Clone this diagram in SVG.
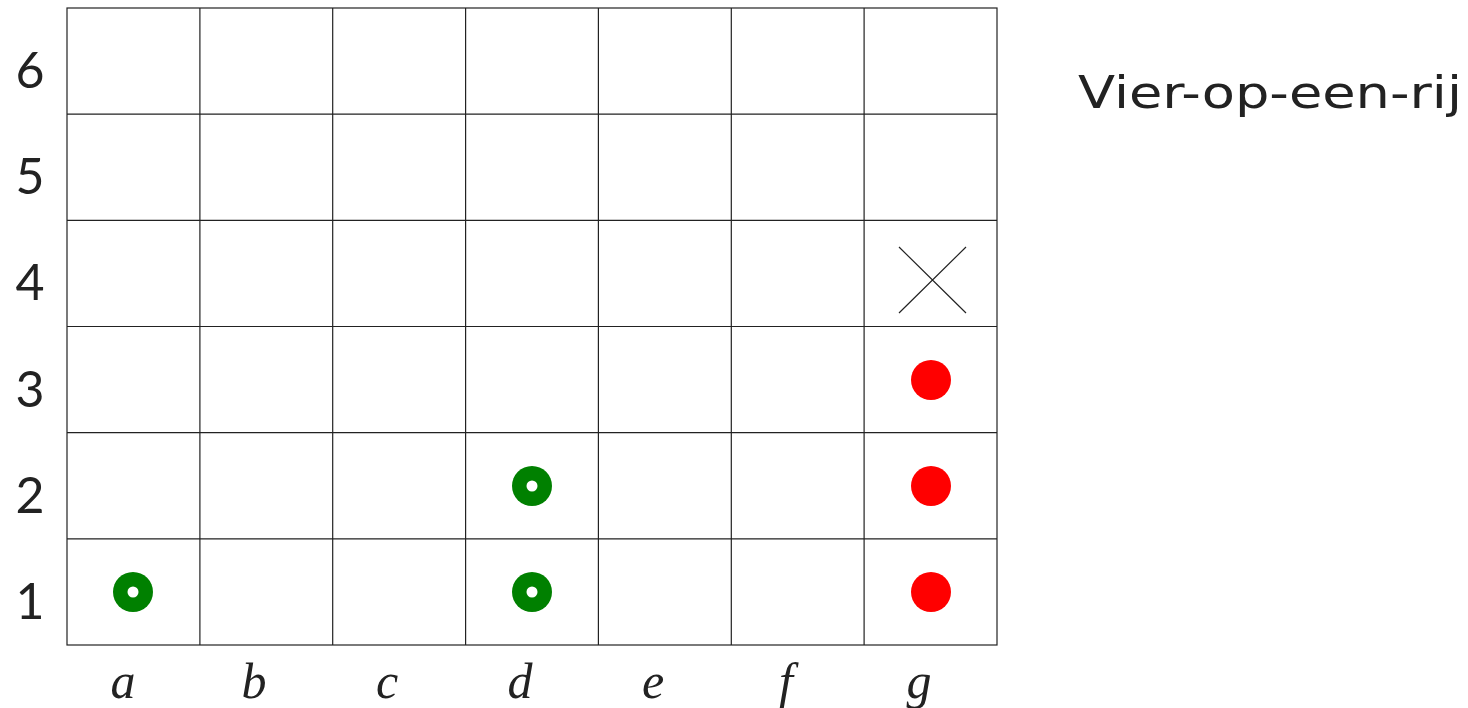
<svg xmlns="http://www.w3.org/2000/svg" width="1468" height="708" viewBox="0 0 1468 708">
<style>
.grid{stroke:#222;stroke-width:1.2;fill:none}
.row{font-family:Lato,"DejaVu Sans",sans-serif;font-size:50px;fill:#222;text-anchor:middle}
.col{font-family:"Liberation Serif",serif;font-style:italic;font-size:50px;fill:#222;text-anchor:middle}
.title{font-family:"DejaVu Sans",sans-serif;font-size:44px;fill:#222}
.red{fill:#ff0000}
.green{fill:#008000}
.hole{fill:#fff}
</style>
<rect width="1468" height="708" fill="#fff"/>
<g id="board">
<rect class="grid" x="67" y="8" width="930" height="637"/>
<path class="grid" d="M199.9 8V645M332.7 8V645M465.6 8V645M598.4 8V645M731.3 8V645M864.1 8V645M67 114.2H997M67 220.3H997M67 326.5H997M67 432.7H997M67 538.8H997"/>
</g>
<g id="row-labels">
<text class="row" x="30" y="88">6</text>
<text class="row" x="30" y="194">5</text>
<text class="row" x="30" y="300">4</text>
<text class="row" x="30" y="407">3</text>
<text class="row" x="30" y="513">2</text>
<text class="row" x="30" y="619">1</text>
</g>
<g id="col-labels">
<text class="col" x="123" y="698">a</text>
<text class="col" x="254" y="698">b</text>
<text class="col" x="387" y="698">c</text>
<text class="col" x="520" y="698">d</text>
<text class="col" x="653" y="698">e</text>
<text class="col" x="786" y="698">f</text>
<text class="col" x="919" y="698">g</text>
</g>
<g id="title"><text class="title" x="1078" y="108" textLength="384" lengthAdjust="spacingAndGlyphs">Vier-op-een-rij</text></g>
<g id="marker-g4"><path d="M899 247L966 313M966 247L899 313" stroke="#222" stroke-width="1.2" fill="none"/></g>
<g id="red-pieces">
<circle class="red" cx="931" cy="380" r="20"/>
<circle class="red" cx="931" cy="486" r="20"/>
<circle class="red" cx="931" cy="592" r="20"/>
</g>
<g id="green-pieces">
<circle class="green" cx="133" cy="592" r="20"/><circle class="hole" cx="133" cy="592" r="5.5"/>
<circle class="green" cx="532" cy="592" r="20"/><circle class="hole" cx="532" cy="592" r="5.5"/>
<circle class="green" cx="532" cy="486" r="20"/><circle class="hole" cx="532" cy="486" r="5.5"/>
</g>
</svg>
